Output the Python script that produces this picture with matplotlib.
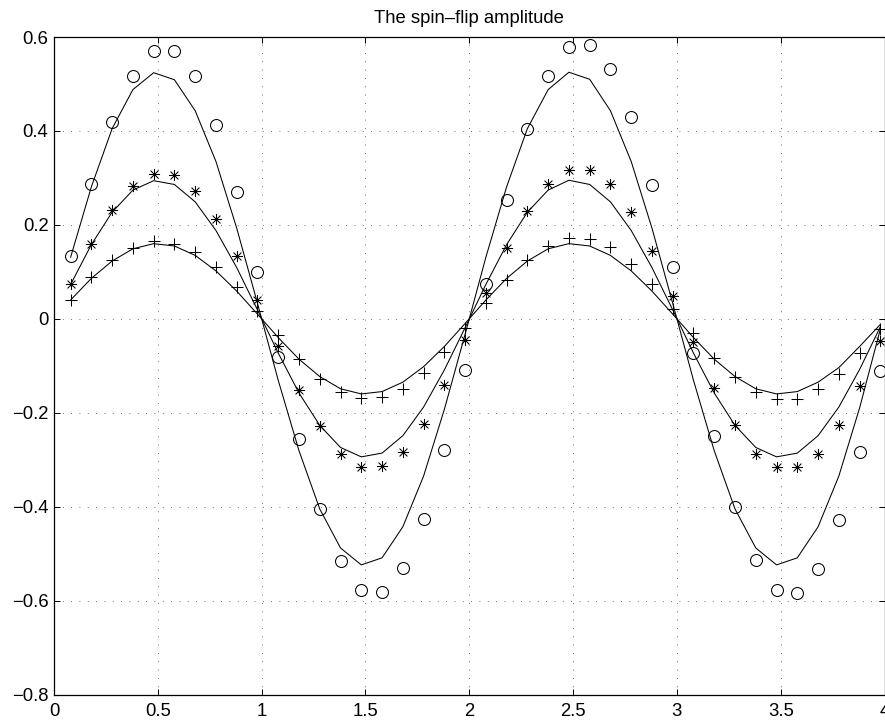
import matplotlib
matplotlib.use("Agg")
import matplotlib.pyplot as plt
from matplotlib.path import Path

plt.rcParams["font.family"] = ["Liberation Sans", "DejaVu Sans"]

# sample positions (shared by the lines and the markers)
x_vals = [0.08, 0.18, 0.28, 0.38, 0.48, 0.58, 0.68, 0.78, 0.88, 0.98,
          1.08, 1.18, 1.28, 1.38, 1.48, 1.58, 1.68, 1.78, 1.88, 1.98,
          2.08, 2.18, 2.28, 2.38, 2.48, 2.58, 2.68, 2.78, 2.88, 2.98,
          3.08, 3.18, 3.28, 3.38, 3.48, 3.58, 3.68, 3.78, 3.88, 3.98]

# solid curves
line_big = [0.131, 0.281, 0.405, 0.488, 0.524, 0.509, 0.443, 0.335, 0.193, 0.033,
            -0.131, -0.281, -0.405, -0.488, -0.524, -0.509, -0.443, -0.335, -0.193, -0.033,
            0.131, 0.281, 0.405, 0.488, 0.525, 0.510, 0.443, 0.335, 0.193, 0.033,
            -0.131, -0.281, -0.405, -0.488, -0.524, -0.509, -0.443, -0.335, -0.190, -0.022]
line_mid = [0.073, 0.158, 0.227, 0.274, 0.294, 0.286, 0.249, 0.188, 0.109, 0.019,
            -0.073, -0.158, -0.227, -0.274, -0.294, -0.286, -0.249, -0.188, -0.109, -0.019,
            0.073, 0.158, 0.227, 0.274, 0.295, 0.286, 0.249, 0.188, 0.109, 0.019,
            -0.073, -0.158, -0.227, -0.274, -0.294, -0.286, -0.249, -0.188, -0.108, -0.017]
line_small = [0.040, 0.086, 0.123, 0.149, 0.160, 0.155, 0.135, 0.102, 0.059, 0.010,
              -0.040, -0.086, -0.123, -0.149, -0.160, -0.155, -0.135, -0.102, -0.059, -0.010,
              0.040, 0.086, 0.123, 0.149, 0.160, 0.155, 0.135, 0.102, 0.059, 0.010,
              -0.040, -0.086, -0.123, -0.149, -0.160, -0.155, -0.135, -0.104, -0.059, -0.012]

# marker series
circ_pts = [0.133, 0.287, 0.419, 0.517, 0.570, 0.570, 0.517, 0.413, 0.270, 0.099,
            -0.082, -0.255, -0.404, -0.515, -0.577, -0.581, -0.530, -0.426, -0.280, -0.109,
            0.075, 0.252, 0.404, 0.516, 0.579, 0.584, 0.532, 0.429, 0.284, 0.111,
            -0.073, -0.249, -0.400, -0.513, -0.577, -0.584, -0.533, -0.429, -0.284, -0.112]
star_pts = [0.074, 0.160, 0.232, 0.283, 0.309, 0.306, 0.272, 0.213, 0.133, 0.040,
            -0.059, -0.151, -0.229, -0.287, -0.316, -0.314, -0.283, -0.223, -0.142, -0.046,
            0.055, 0.150, 0.230, 0.288, 0.316, 0.316, 0.287, 0.227, 0.145, 0.049,
            -0.050, -0.147, -0.227, -0.287, -0.316, -0.316, -0.287, -0.227, -0.144, -0.048]
plus_pts = [0.040, 0.089, 0.125, 0.150, 0.165, 0.160, 0.142, 0.111, 0.067, 0.017,
            -0.034, -0.086, -0.128, -0.155, -0.169, -0.167, -0.150, -0.116, -0.070, -0.020,
            0.034, 0.083, 0.125, 0.156, 0.172, 0.170, 0.152, 0.117, 0.074, 0.020,
            -0.030, -0.084, -0.124, -0.155, -0.171, -0.170, -0.150, -0.117, -0.072, -0.022]

x_ticks = [0, 0.5, 1, 1.5, 2, 2.5, 3, 3.5, 4]
x_tick_labels = ["0", "0.5", "1", "1.5", "2", "2.5", "3", "3.5", "4"]
y_ticks = [-0.8, -0.6, -0.4, -0.2, 0, 0.2, 0.4, 0.6]
y_tick_labels = ["\u22120.8", "\u22120.6", "\u22120.4", "\u22120.2", "0", "0.2", "0.4", "0.6"]

# matlab style asterisk: a plus and a cross on top of each other
d = 0.7071
asterisk = Path(
    [(-1, 0), (1, 0), (0, -1), (0, 1), (-d, -d), (d, d), (-d, d), (d, -d)],
    [Path.MOVETO, Path.LINETO] * 4,
)

fig = plt.figure(figsize=(8.85, 7.21), dpi=100)
ax = fig.add_axes([54 / 885, 1 - 694.5 / 721, 830.5 / 885, 657.5 / 721])

for ys in (line_big, line_mid, line_small):
    ax.plot(x_vals, ys, color="black", linewidth=0.75)

ax.plot(x_vals, circ_pts, linestyle="none", marker="o", markersize=8.6,
        markerfacecolor="none", markeredgecolor="black", markeredgewidth=0.75)
ax.plot(x_vals, star_pts, linestyle="none", marker=asterisk, markersize=8.0,
        markerfacecolor="none", markeredgecolor="black", markeredgewidth=0.75)
ax.plot(x_vals, plus_pts, linestyle="none", marker="+", markersize=8.0,
        markeredgecolor="black", markeredgewidth=0.75)

ax.set_xlim(0, 4)
ax.set_ylim(-0.8, 0.6)
ax.set_xticks(x_ticks)
ax.set_xticklabels(x_tick_labels)
ax.set_yticks(y_ticks)
ax.set_yticklabels(y_tick_labels)
ax.tick_params(direction="in", length=4.5, width=0.7, top=True, right=True,
               labelsize=13.3, colors="black")
ax.tick_params(axis="x", pad=6)
ax.tick_params(axis="y", pad=4)
ax.grid(True, color="#444444", linewidth=0.6, linestyle=(0, (1, 9)))
for sp in ax.spines.values():
    sp.set_linewidth(0.9)
    sp.set_color("black")

ax.set_title("The spin\u2013flip amplitude", fontsize=13.3, pad=10)

fig.savefig("out.png", dpi=100)
